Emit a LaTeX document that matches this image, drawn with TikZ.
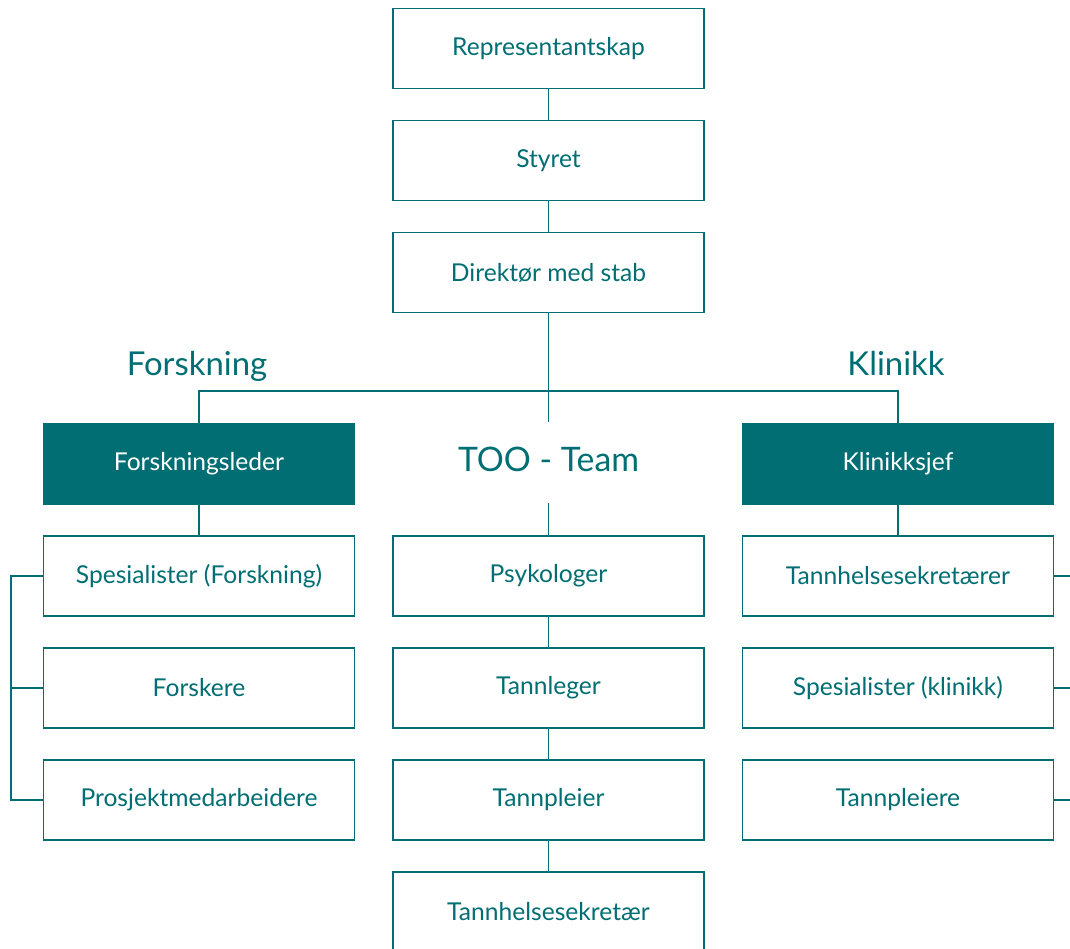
\documentclass[tikz,border=0pt]{standalone}
\usepackage{fontspec}
\setmainfont{Lato}
\definecolor{tooteal}{HTML}{006E73}
\tikzset{
  orgbox/.style={draw=tooteal, line width=0.85pt, fill=white, text=tooteal,
    minimum width=7.775cm, minimum height=2cm, font=\fontsize{17.5}{21}\selectfont},
  leadbox/.style={orgbox, fill=tooteal, text=white},
  grouplabel/.style={text=tooteal, text height=0.7em, text depth=0.2em,
    font=\fontsize{23.4}{28}\selectfont},
  orgline/.style={draw=tooteal, line width=0.85pt}
}
\begin{document}
\begin{tikzpicture}[x=0.025cm,y=-0.025cm]
\useasboundingbox (0,0) rectangle (1070,948);
\clip (0,0) rectangle (1070,948);
% top chain
\node[orgbox] (rep) at (548.5,48.5) {Representantskap};
\node[orgbox] (sty) at (548.5,160.5) {Styret};
\node[orgbox] (dir) at (548.5,272.5) {Direktør med stab};
\draw[orgline] (rep) -- (sty);
\draw[orgline] (sty) -- (dir);
% groups
\node[grouplabel] (lforsk) at (197,372) {Forskning};
\node[grouplabel] (lklin) at (896,372) {Klinikk};
\node[grouplabel, font=\fontsize{24}{28}\selectfont] (team) at (548.5,468) {TOO - Team};
\node[leadbox] (fleder) at (199,464) {Forskningsleder};
\node[leadbox] (kchef) at (898,464) {Klinikksjef};
\coordinate (fl) at (199,391);
\coordinate (kl) at (898,391);
\coordinate (hub) at (548.5,391);
\coordinate (teamtop) at (548.5,422);
\coordinate (teambot) at (548.5,503);
\draw[orgline] (dir) -- (hub) -- (teamtop);
\draw[orgline] (fleder.north) -- (fl) -- (kl) -- (kchef.north);
% forskning
\node[orgbox] (spf) at (199,576) {Spesialister (Forskning)};
\node[orgbox] (fsk) at (199,688) {Forskere};
\node[orgbox] (prm) at (199,800) {Prosjektmedarbeidere};
\draw[orgline] (fleder) -- (spf);
\coordinate (lb1) at (11,576);
\coordinate (lb2) at (11,688);
\coordinate (lb3) at (11,800);
\draw[orgline] (spf.west) -- (lb1) -- (lb3) -- (prm.west);
\draw[orgline] (fsk.west) -- (lb2);
% team
\node[orgbox] (psy) at (548.5,576) {Psykologer};
\node[orgbox] (tl) at (548.5,688) {Tannleger};
\node[orgbox] (tp) at (548.5,800) {Tannpleier};
\node[orgbox] (ths) at (548.5,912) {Tannhelsesekretær};
\draw[orgline] (teambot) -- (psy);
\draw[orgline] (psy) -- (tl);
\draw[orgline] (tl) -- (tp);
\draw[orgline] (tp) -- (ths);
% klinikk
\node[orgbox] (thk) at (898,576) {Tannhelsesekretærer};
\node[orgbox] (spk) at (898,688) {Spesialister (klinikk)};
\node[orgbox] (tpe) at (898,800) {Tannpleiere};
\draw[orgline] (kchef) -- (thk);
\coordinate (rb1) at (1070,576);
\coordinate (rb2) at (1070,688);
\coordinate (rb3) at (1070,800);
\draw[orgline] (thk.east) -- (rb1);
\draw[orgline] (spk.east) -- (rb2);
\draw[orgline] (tpe.east) -- (rb3);
\end{tikzpicture}
\end{document}
